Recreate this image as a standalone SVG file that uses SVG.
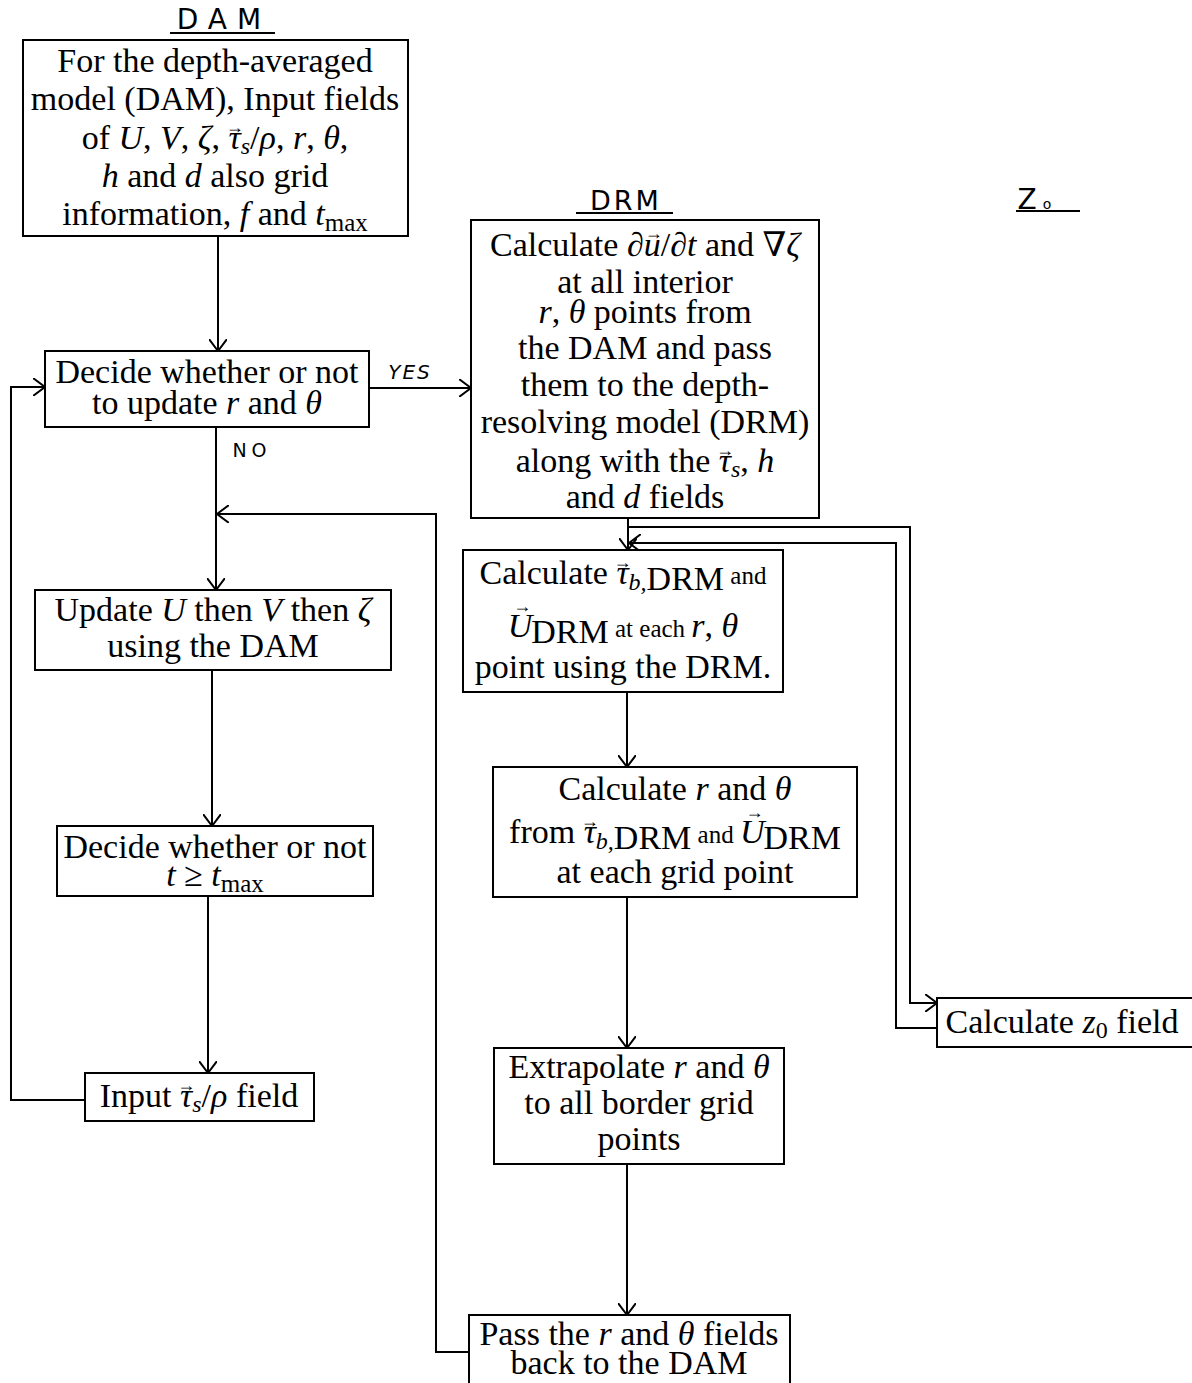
<svg xmlns="http://www.w3.org/2000/svg" width="1192" height="1383" viewBox="0 0 1192 1383">
<style>
.box{fill:#fff;stroke:#000;stroke-width:2}
.t{font-family:"Liberation Serif","DejaVu Serif",serif;font-size:34px;fill:#000;text-anchor:middle}
.i{font-style:italic}
.sub{font-size:24px}
.sm{font-size:25px}
.acc{font-size:18px;font-style:normal}
.hw{font-family:"DejaVu Sans","Liberation Sans",sans-serif;fill:#000;text-anchor:middle}
.c{fill:none;stroke:#000;stroke-width:2}
</style>
<defs>
<marker id="arr" viewBox="0 0 12 18" refX="12" refY="9" markerWidth="12" markerHeight="18" markerUnits="userSpaceOnUse" orient="auto">
<path d="M0,0 L12,9 L0,18" fill="none" stroke="#000" stroke-width="2"/>
</marker>
</defs>
<rect width="1192" height="1383" fill="#fff"/>

<g id="labels">
<text class="hw" x="224" y="29" font-size="28" letter-spacing="10">DAM</text>
<line class="c" x1="170" y1="33" x2="275" y2="33"/>
<text class="hw" x="626" y="210" font-size="27" letter-spacing="3">DRM</text>
<line class="c" x1="576" y1="213" x2="673" y2="213"/>
<text class="hw" x="1027" y="209" font-size="28">Z</text>
<text class="hw" x="1047" y="209" font-size="14">o</text>
<line class="c" x1="1016" y1="211" x2="1080" y2="211"/>
<text class="hw" x="410" y="379" font-size="20" font-style="italic" letter-spacing="2">YES</text>
<text class="hw" x="252" y="457" font-size="19" letter-spacing="5">NO</text>
</g>

<g id="connectors">
<path class="c" d="M218,236 V351" marker-end="url(#arr)"/>
<path class="c" d="M369,388 H471" marker-end="url(#arr)"/>
<path class="c" d="M216,427 V590" marker-end="url(#arr)"/>
<path class="c" d="M469,1352 H436 V514 H217" marker-end="url(#arr)"/>
<path class="c" d="M212,670 V826" marker-end="url(#arr)"/>
<path class="c" d="M208,896 V1073" marker-end="url(#arr)"/>
<path class="c" d="M85,1100 H11 V387 H45" marker-end="url(#arr)"/>
<path class="c" d="M628,518 V550" marker-end="url(#arr)"/>
<path class="c" d="M628,527 H910 V1003 H937" marker-end="url(#arr)"/>
<path class="c" d="M937,1028 H896 V543 H629" marker-end="url(#arr)"/>
<path class="c" d="M627,692 V767" marker-end="url(#arr)"/>
<path class="c" d="M627,897 V1048" marker-end="url(#arr)"/>
<path class="c" d="M627,1164 V1315" marker-end="url(#arr)"/>
</g>

<g id="n-input">
<rect class="box" x="23" y="40" width="385" height="196"/>
<text class="t" x="215" y="72">For the depth-averaged</text>
<text class="t" x="215" y="110">model (DAM), Input fields</text>
<text class="t" x="215" y="149">of <tspan class="i">U</tspan>, <tspan class="i">V</tspan>, <tspan class="i">ζ</tspan>, <tspan class="i">τ</tspan><tspan class="acc" dx="-15" dy="-16">→</tspan><tspan class="i sub" dx="-3" dy="21">s</tspan><tspan dy="-5">/</tspan><tspan class="i">ρ</tspan>, <tspan class="i">r</tspan>, <tspan class="i">θ</tspan>,</text>
<text class="t" x="215" y="187"><tspan class="i">h</tspan> and <tspan class="i">d</tspan> also grid</text>
<text class="t" x="215" y="225">information, <tspan class="i">f</tspan> and <tspan class="i">t</tspan><tspan class="sm" dy="6">max</tspan></text>
</g>

<g id="n-decide-update">
<rect class="box" x="45" y="351" width="324" height="76"/>
<text class="t" x="207" y="383">Decide whether or not</text>
<text class="t" x="207" y="414">to update <tspan class="i">r</tspan> and <tspan class="i">θ</tspan></text>
</g>

<g id="n-drm">
<rect class="box" x="471" y="220" width="348" height="298"/>
<text class="t" x="645" y="256">Calculate <tspan class="i">∂u</tspan><tspan class="acc" dx="-16" dy="-17">→</tspan><tspan dx="-2" dy="17">/</tspan><tspan class="i">∂t</tspan> and ∇<tspan class="i">ζ</tspan></text>
<text class="t" x="645" y="293">at all interior</text>
<text class="t" x="645" y="323"><tspan class="i">r</tspan>, <tspan class="i">θ</tspan> points from</text>
<text class="t" x="645" y="359">the DAM and pass</text>
<text class="t" x="645" y="396">them to the depth-</text>
<text class="t" x="645" y="433">resolving model (DRM)</text>
<text class="t" x="645" y="472">along with the <tspan class="i">τ</tspan><tspan class="acc" dx="-15" dy="-16">→</tspan><tspan class="i sub" dx="-3" dy="21">s</tspan><tspan dy="-5">, </tspan><tspan class="i">h</tspan></text>
<text class="t" x="645" y="508">and <tspan class="i">d</tspan> fields</text>
</g>

<g id="n-update">
<rect class="box" x="35" y="590" width="356" height="80"/>
<text class="t" x="213" y="621">Update <tspan class="i">U</tspan> then <tspan class="i">V</tspan> then <tspan class="i">ζ</tspan></text>
<text class="t" x="213" y="657">using the DAM</text>
</g>

<g id="n-decide-t">
<rect class="box" x="57" y="826" width="316" height="70"/>
<text class="t" x="215" y="858">Decide whether or not</text>
<text class="t" x="215" y="886"><tspan class="i">t</tspan> ≥ <tspan class="i">t</tspan><tspan class="sm" dy="6">max</tspan></text>
</g>

<g id="n-input-tau">
<rect class="box" x="85" y="1073" width="229" height="48"/>
<text class="t" x="199" y="1107">Input <tspan class="i">τ</tspan><tspan class="acc" dx="-15" dy="-16">→</tspan><tspan class="i sub" dx="-3" dy="21">s</tspan><tspan dy="-5">/</tspan><tspan class="i">ρ</tspan> field</text>
</g>

<g id="n-calc-tau">
<rect class="box" x="463" y="550" width="320" height="142"/>
<text class="t" x="623" y="584">Calculate <tspan class="i">τ</tspan><tspan class="acc" dx="-15" dy="-16">→</tspan><tspan class="i sub" dx="-3" dy="22">b,</tspan><tspan>DRM</tspan><tspan class="sm" dy="-6"> and</tspan></text>
<text class="t" x="623" y="637"><tspan class="i">U</tspan><tspan class="acc" dx="-19" dy="-25">→</tspan><tspan dy="31">DRM</tspan><tspan class="sm" dy="-6"> at each </tspan><tspan class="i">r</tspan>, <tspan class="i">θ</tspan></text>
<text class="t" x="623" y="678">point using the DRM.</text>
</g>

<g id="n-calc-r">
<rect class="box" x="493" y="767" width="364" height="130"/>
<text class="t" x="675" y="800">Calculate <tspan class="i">r</tspan> and <tspan class="i">θ</tspan></text>
<text class="t" x="675" y="843">from <tspan class="i">τ</tspan><tspan class="acc" dx="-15" dy="-16">→</tspan><tspan class="i sub" dx="-3" dy="22">b,</tspan>DRM<tspan class="sm" dy="-6"> and </tspan><tspan class="i">U</tspan><tspan class="acc" dx="-19" dy="-25">→</tspan><tspan dy="31">DRM</tspan></text>
<text class="t" x="675" y="883">at each grid point</text>
</g>

<g id="n-extrapolate">
<rect class="box" x="494" y="1048" width="290" height="116"/>
<text class="t" x="639" y="1078">Extrapolate <tspan class="i">r</tspan> and <tspan class="i">θ</tspan></text>
<text class="t" x="639" y="1114">to all border grid</text>
<text class="t" x="639" y="1150">points</text>
</g>

<g id="n-pass">
<rect class="box" x="469" y="1315" width="321" height="72"/>
<text class="t" x="629" y="1345" font-size="32">Pass the <tspan class="i">r</tspan> and <tspan class="i">θ</tspan> fields</text>
<text class="t" x="629" y="1374" font-size="32">back to the DAM</text>
</g>

<g id="n-z0">
<rect class="box" x="937" y="998" width="262" height="49"/>
<text class="t" x="1062" y="1033">Calculate <tspan class="i">z</tspan><tspan class="sub" dy="5">0</tspan><tspan dy="-5"> field</tspan></text>
</g>
</svg>
